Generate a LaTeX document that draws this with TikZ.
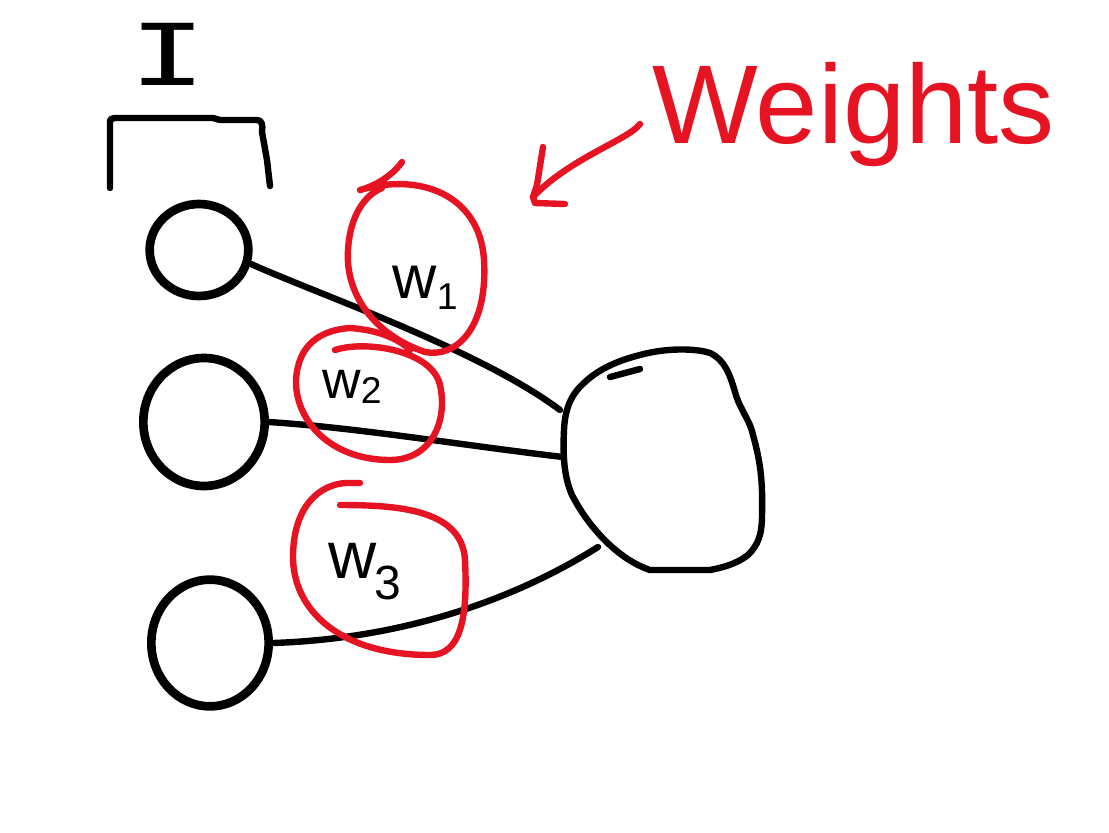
\documentclass[tikz,border=0pt]{standalone}
\usepackage{fontspec}
\setmainfont{Liberation Sans}
\newfontfamily\monofam{DejaVu Sans Mono}
\usetikzlibrary{shapes.geometric,arrows.meta}
\definecolor{inkred}{RGB}{230,20,35}
\tikzset{
  inputnode/.style={draw=black, line width=6.5pt, ellipse, inner sep=0pt},
  wire/.style={draw=black, line width=4.8pt, line cap=round, line join=round},
  redring/.style={draw=inkred, line width=4.8pt, line cap=round, line join=round},
  wlabel/.style={text=black, inner sep=0pt},
}
\begin{document}
\begin{tikzpicture}[x=0.75pt,y=-0.75pt]
\useasboundingbox[fill=white] (0,0) rectangle (1109,832);
% I label and bracket
\node[font=\fontsize{64}{64}\selectfont\monofam, xscale=1.5, inner sep=0pt] (ilabel) at (168,54) {I};
\coordinate (b1) at (110,188);
\coordinate (b2) at (270,186);
\draw[wire] (b1) -- (110,124) .. controls (110,119) .. (115,118) -- (213,118) -- (220,120) -- (257,120)
  .. controls (262,120) and (263,125) .. (262,132) -- (267,160) -- (b2);
% input nodes
\node[inputnode, minimum width=74pt, minimum height=69pt] (in1) at (199,250) {};
\node[inputnode, minimum width=91pt, minimum height=96pt] (in2) at (204,422) {};
\node[inputnode, minimum width=88pt, minimum height=95pt] (in3) at (210,643) {};
% output blob
\coordinate (o1) at (560,410);
\coordinate (o2) at (563,457);
\coordinate (o3) at (598,547);
\draw[wire] (640,355) .. controls (665,348) and (695,348) .. (710,353)
  .. controls (725,360) and (730,375) .. (735,392)
  .. controls (740,410) and (750,420) .. (753,435)
  .. controls (760,460) and (763,480) .. (762,515)
  .. controls (762,535) and (758,545) .. (748,555)
  .. controls (735,565) and (720,568) .. (710,570)
  -- (650,570) .. controls (620,560) and (590,530) .. (572,495)
  .. controls (563,475) and (563,450) .. (564,430)
  .. controls (565,410) and (570,395) .. (585,382)
  .. controls (600,368) and (620,360) .. (640,355);
\draw[wire] (610,377) -- (640,369);
% connectors
\draw[wire] (in1.-15) .. controls (320,295) and (480,350) .. (o1);
\draw[wire] (in2.east) .. controls (360,428) and (460,445) .. (o2);
\draw[wire] (in3.east) .. controls (420,638) and (530,590) .. (o3);
% red rings
\draw[redring] (402,162) .. controls (392,176) and (375,186) .. (360,190)
  .. controls (420,172) and (480,195) .. (484,260)
  .. controls (488,330) and (455,358) .. (425,352)
  .. controls (375,335) and (345,295) .. (348,250)
  .. controls (350,215) and (365,195) .. (382,188);
\draw[redring] (335,350) .. controls (365,340) and (432,350) .. (440,385)
  .. controls (448,420) and (432,460) .. (390,460)
  .. controls (330,460) and (295,420) .. (296,380)
  .. controls (298,345) and (320,330) .. (350,328) .. controls (380,330) and (400,340) .. (410,350);
\draw[redring] (340,505) .. controls (400,505) and (462,510) .. (465,560)
  .. controls (468,620) and (460,655) .. (430,655)
  .. controls (340,655) and (292,610) .. (293,555)
  .. controls (294,505) and (320,485) .. (345,483) -- (360,483);
% w labels
\node[wlabel, font=\fontsize{46}{46}\selectfont] (w1) at (425,288) {w\raisebox{-0.35ex}{\fontsize{28}{28}\selectfont 1}};
\node[wlabel, font=\fontsize{40}{40}\selectfont] (w2) at (352,387) {w\raisebox{-0.2ex}{\fontsize{28}{28}\selectfont 2}};
\node[wlabel, font=\fontsize{50}{50}\selectfont] (w3) at (365,572) {w\kern-2pt\raisebox{-0.6ex}{\fontsize{36}{36}\selectfont 3}};
% Weights + arrow
\node[font=\fontsize{84}{84}\selectfont, text=inkred, anchor=base west, inner sep=0pt] (weights) at (652,143) {Weights};
\coordinate (atail) at (640,124);
\coordinate (atip) at (533,197);
\draw[redring] (atail) .. controls (628,140) and (570,158) .. (atip);
\draw[redring] (543,147) -- (537,185) -- (atip) -- (535,203) -- (565,204);
\end{tikzpicture}
\end{document}
